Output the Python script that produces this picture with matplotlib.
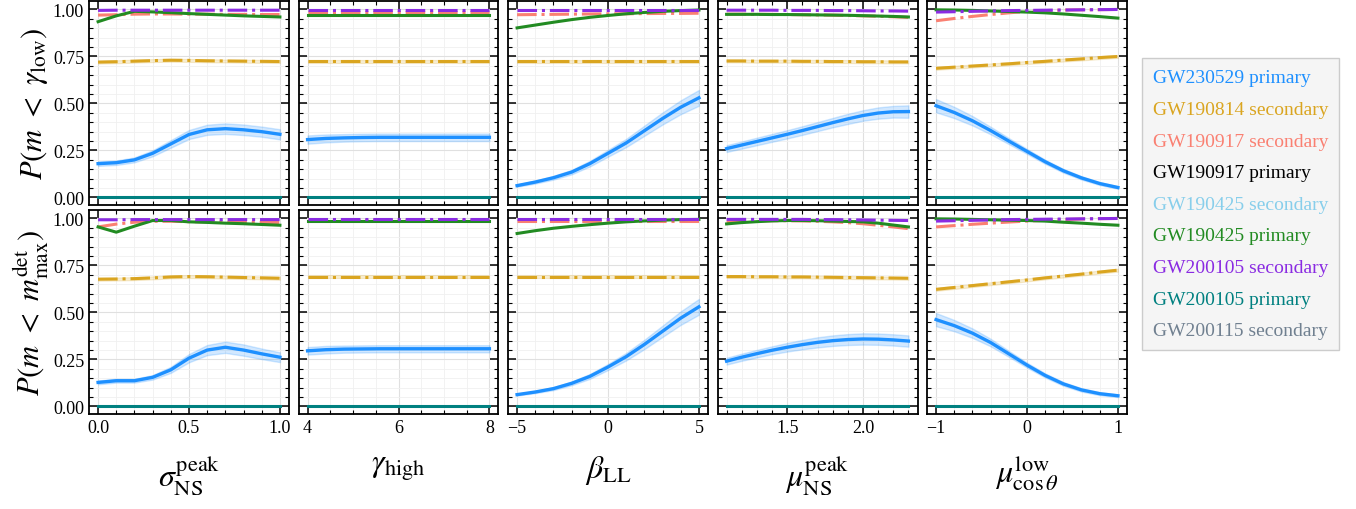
import matplotlib
matplotlib.use("Agg")
import matplotlib.pyplot as plt
from matplotlib.ticker import MultipleLocator

plt.rcParams["font.family"] = ["Liberation Serif", "DejaVu Serif"]
plt.rcParams["mathtext.fontset"] = "stix"

# x grids for each hyper-parameter
x_sig = [0.0, 0.1, 0.2, 0.3, 0.4, 0.5, 0.6, 0.7, 0.8, 0.9, 1.0]
x_gam = [4.0, 4.4, 4.8, 5.2, 5.6, 6.0, 6.4, 6.8, 7.2, 7.6, 8.0]
x_beta = [-5, -4, -3, -2, -1, 0, 1, 2, 3, 4, 5]
x_mu = [1.1, 1.2, 1.3, 1.4, 1.5, 1.6, 1.7, 1.8, 1.9, 2.0, 2.1, 2.2, 2.3]
x_cos = [-1.0, -0.8, -0.6, -0.4, -0.2, 0.0, 0.2, 0.4, 0.6, 0.8, 1.0]

xlabels = [r"$\sigma_{\rm NS}^{\rm peak}$", r"$\gamma_{\rm high}$", r"$\beta_{\rm LL}$",
           r"$\mu_{\rm NS}^{\rm peak}$", r"$\mu_{\cos\theta}^{\rm low}$"]
ylabels = [r"$P(m\ <\ \gamma_{\rm low})$", r"$P(m\ <\ m_{\rm max}^{\rm det})$"]

names = ["GW230529 primary", "GW190814 secondary", "GW190917 secondary", "GW190917 primary",
         "GW190425 secondary", "GW190425 primary", "GW200105 secondary", "GW200105 primary",
         "GW200115 secondary"]
colors = ["dodgerblue", "goldenrod", "salmon", "black", "skyblue", "forestgreen",
          "blueviolet", "teal", "slategray"]

# ---- row 1: P(m < gamma_low) ----
low_sig_blue = [0.180, 0.185, 0.200, 0.235, 0.285, 0.335, 0.360, 0.366, 0.360, 0.350, 0.336]
low_sig_err = [0.012, 0.012, 0.013, 0.016, 0.020, 0.024, 0.027, 0.028, 0.028, 0.027, 0.027]
low_sig_orange = [0.720, 0.722, 0.725, 0.728, 0.730, 0.729, 0.727, 0.726, 0.725, 0.724, 0.723]
low_sig_salmon = [0.970, 0.972, 0.975, 0.976, 0.976, 0.975, 0.975, 0.974, 0.974, 0.973, 0.973]
low_sig_green = [0.935, 0.966, 0.990, 0.987, 0.983, 0.978, 0.974, 0.970, 0.966, 0.963, 0.960]
low_sig_purple = [0.995, 0.996, 0.996, 0.996, 0.996, 0.996, 0.996, 0.996, 0.996, 0.996, 0.996]

low_gam_blue = [0.308, 0.314, 0.317, 0.319, 0.320, 0.320, 0.320, 0.320, 0.320, 0.320, 0.320]
low_gam_err = [0.022, 0.021, 0.020, 0.020, 0.020, 0.020, 0.020, 0.020, 0.020, 0.020, 0.020]
low_gam_orange = [0.725, 0.725, 0.725, 0.725, 0.725, 0.725, 0.725, 0.725, 0.725, 0.725, 0.725]
low_gam_salmon = [0.985, 0.985, 0.985, 0.985, 0.985, 0.985, 0.985, 0.985, 0.985, 0.985, 0.985]
low_gam_green = [0.970, 0.970, 0.970, 0.970, 0.970, 0.970, 0.970, 0.970, 0.970, 0.970, 0.970]
low_gam_purple = [0.996, 0.996, 0.996, 0.996, 0.996, 0.996, 0.996, 0.996, 0.996, 0.996, 0.996]

low_beta_blue = [0.063, 0.082, 0.105, 0.135, 0.180, 0.235, 0.290, 0.355, 0.420, 0.480, 0.530]
low_beta_err = [0.006, 0.008, 0.010, 0.012, 0.015, 0.018, 0.022, 0.027, 0.032, 0.037, 0.042]
low_beta_orange = [0.725, 0.725, 0.725, 0.725, 0.725, 0.725, 0.725, 0.725, 0.725, 0.725, 0.725]
low_beta_salmon = [0.972, 0.973, 0.974, 0.975, 0.976, 0.977, 0.977, 0.978, 0.979, 0.979, 0.980]
low_beta_green = [0.902, 0.917, 0.932, 0.946, 0.958, 0.968, 0.977, 0.984, 0.990, 0.994, 0.997]
low_beta_purple = [0.997, 0.997, 0.997, 0.997, 0.997, 0.997, 0.997, 0.997, 0.997, 0.997, 0.997]

low_mu_blue = [0.260, 0.279, 0.298, 0.317, 0.336, 0.356, 0.377, 0.398, 0.418, 0.436, 0.449, 0.456, 0.457]
low_mu_err = [0.018, 0.019, 0.020, 0.021, 0.022, 0.023, 0.024, 0.025, 0.027, 0.028, 0.030, 0.031, 0.033]
low_mu_orange = [0.726, 0.726, 0.725, 0.725, 0.725, 0.724, 0.724, 0.723, 0.723, 0.722, 0.722, 0.721, 0.721]
low_mu_salmon = [0.975, 0.975, 0.974, 0.974, 0.973, 0.972, 0.971, 0.970, 0.968, 0.966, 0.964, 0.961, 0.958]
low_mu_green = [0.974, 0.974, 0.974, 0.973, 0.973, 0.972, 0.971, 0.970, 0.969, 0.967, 0.965, 0.963, 0.960]
low_mu_purple = [0.996, 0.996, 0.996, 0.996, 0.995, 0.995, 0.995, 0.994, 0.994, 0.993, 0.992, 0.992, 0.991]

low_cos_blue = [0.488, 0.452, 0.408, 0.356, 0.300, 0.245, 0.190, 0.142, 0.104, 0.074, 0.053]
low_cos_err = [0.035, 0.030, 0.025, 0.020, 0.016, 0.013, 0.011, 0.010, 0.009, 0.008, 0.007]
low_cos_orange = [0.687, 0.693, 0.699, 0.705, 0.711, 0.718, 0.724, 0.731, 0.737, 0.744, 0.750]
low_cos_salmon = [0.940, 0.952, 0.963, 0.973, 0.982, 0.990, 0.994, 0.997, 0.998, 0.999, 1.000]
low_cos_green = [0.998, 0.997, 0.995, 0.992, 0.989, 0.986, 0.982, 0.976, 0.969, 0.962, 0.954]
low_cos_purple = [0.986, 0.988, 0.990, 0.992, 0.994, 0.995, 0.996, 0.997, 0.998, 0.999, 1.000]

# ---- row 2: P(m < m_max^det) ----
det_sig_blue = [0.128, 0.137, 0.137, 0.155, 0.195, 0.257, 0.300, 0.315, 0.300, 0.280, 0.262]
det_sig_err = [0.010, 0.010, 0.010, 0.012, 0.016, 0.022, 0.027, 0.030, 0.030, 0.028, 0.026]
det_sig_orange = [0.677, 0.678, 0.680, 0.684, 0.689, 0.691, 0.690, 0.688, 0.686, 0.684, 0.682]
det_sig_salmon = [0.955, 0.970, 0.980, 0.985, 0.985, 0.983, 0.982, 0.980, 0.980, 0.979, 0.978]
det_sig_green = [0.955, 0.927, 0.959, 0.989, 0.989, 0.982, 0.979, 0.975, 0.972, 0.968, 0.964]
det_sig_purple = [0.993, 0.993, 0.994, 0.994, 0.994, 0.994, 0.994, 0.994, 0.994, 0.994, 0.994]

det_gam_blue = [0.296, 0.302, 0.305, 0.306, 0.307, 0.307, 0.307, 0.307, 0.307, 0.307, 0.307]
det_gam_err = [0.020, 0.020, 0.019, 0.019, 0.019, 0.019, 0.019, 0.019, 0.019, 0.019, 0.019]
det_gam_orange = [0.689, 0.689, 0.689, 0.689, 0.689, 0.689, 0.689, 0.689, 0.689, 0.689, 0.689]
det_gam_salmon = [0.990, 0.990, 0.990, 0.990, 0.990, 0.990, 0.990, 0.990, 0.990, 0.990, 0.990]
det_gam_green = [0.984, 0.984, 0.984, 0.984, 0.984, 0.984, 0.984, 0.984, 0.984, 0.984, 0.984]
det_gam_purple = [0.995, 0.995, 0.995, 0.995, 0.995, 0.995, 0.995, 0.995, 0.995, 0.995, 0.995]

det_beta_blue = [0.063, 0.077, 0.095, 0.123, 0.160, 0.210, 0.265, 0.330, 0.400, 0.470, 0.530]
det_beta_err = [0.005, 0.006, 0.008, 0.010, 0.013, 0.016, 0.020, 0.025, 0.030, 0.036, 0.042]
det_beta_orange = [0.691, 0.691, 0.691, 0.691, 0.691, 0.691, 0.691, 0.691, 0.691, 0.691, 0.691]
det_beta_salmon = [0.985, 0.985, 0.985, 0.985, 0.985, 0.985, 0.985, 0.985, 0.985, 0.985, 0.985]
det_beta_green = [0.920, 0.935, 0.948, 0.958, 0.967, 0.975, 0.982, 0.987, 0.991, 0.994, 0.995]
det_beta_purple = [0.996, 0.996, 0.996, 0.996, 0.996, 0.996, 0.996, 0.996, 0.996, 0.996, 0.996]

det_mu_blue = [0.241, 0.262, 0.281, 0.299, 0.315, 0.329, 0.341, 0.350, 0.356, 0.359, 0.358, 0.354, 0.348]
det_mu_err = [0.018, 0.019, 0.020, 0.021, 0.023, 0.025, 0.027, 0.028, 0.029, 0.030, 0.030, 0.030, 0.030]
det_mu_orange = [0.691, 0.691, 0.690, 0.690, 0.689, 0.689, 0.688, 0.687, 0.686, 0.685, 0.684, 0.683, 0.682]
det_mu_salmon = [0.980, 0.984, 0.987, 0.988, 0.988, 0.987, 0.985, 0.982, 0.978, 0.972, 0.964, 0.955, 0.946]
det_mu_green = [0.971, 0.978, 0.983, 0.987, 0.989, 0.989, 0.988, 0.986, 0.984, 0.982, 0.975, 0.965, 0.955]
det_mu_purple = [0.995, 0.995, 0.995, 0.995, 0.995, 0.995, 0.994, 0.994, 0.993, 0.992, 0.991, 0.990, 0.989]

det_cos_blue = [0.462, 0.430, 0.390, 0.340, 0.280, 0.220, 0.165, 0.120, 0.088, 0.068, 0.057]
det_cos_err = [0.035, 0.030, 0.025, 0.020, 0.016, 0.013, 0.011, 0.010, 0.009, 0.008, 0.007]
det_cos_orange = [0.623, 0.633, 0.643, 0.653, 0.663, 0.673, 0.684, 0.694, 0.704, 0.715, 0.725]
det_cos_salmon = [0.955, 0.962, 0.969, 0.975, 0.981, 0.986, 0.990, 0.994, 0.997, 0.999, 1.000]
det_cos_green = [0.998, 0.997, 0.995, 0.993, 0.991, 0.989, 0.986, 0.980, 0.975, 0.969, 0.964]
det_cos_purple = [0.986, 0.988, 0.990, 0.992, 0.994, 0.995, 0.996, 0.997, 0.998, 0.999, 1.000]

# events that sit at P = 0 everywhere
zero_level = 0.0

xgrids = [x_sig, x_gam, x_beta, x_mu, x_cos]
panels = [
    [(low_sig_blue, low_sig_err, low_sig_orange, low_sig_salmon, low_sig_green, low_sig_purple),
     (low_gam_blue, low_gam_err, low_gam_orange, low_gam_salmon, low_gam_green, low_gam_purple),
     (low_beta_blue, low_beta_err, low_beta_orange, low_beta_salmon, low_beta_green, low_beta_purple),
     (low_mu_blue, low_mu_err, low_mu_orange, low_mu_salmon, low_mu_green, low_mu_purple),
     (low_cos_blue, low_cos_err, low_cos_orange, low_cos_salmon, low_cos_green, low_cos_purple)],
    [(det_sig_blue, det_sig_err, det_sig_orange, det_sig_salmon, det_sig_green, det_sig_purple),
     (det_gam_blue, det_gam_err, det_gam_orange, det_gam_salmon, det_gam_green, det_gam_purple),
     (det_beta_blue, det_beta_err, det_beta_orange, det_beta_salmon, det_beta_green, det_beta_purple),
     (det_mu_blue, det_mu_err, det_mu_orange, det_mu_salmon, det_mu_green, det_mu_purple),
     (det_cos_blue, det_cos_err, det_cos_orange, det_cos_salmon, det_cos_green, det_cos_purple)],
]

major_x = [0.5, 2, 5, 0.5, 1]
minor_x = [0.1, 0.5, 1, 0.1, 0.2]

fig = plt.figure(figsize=(13.56, 5.10), dpi=100)

left0, width, gap = 89 / 1356, 200 / 1356, 9.5 / 1356
bottoms = [1 - 206 / 510, 1 - 415 / 510]
height = 204 / 510

axes = [[None] * 5 for _ in range(2)]
for r in range(2):
    for c in range(5):
        ax = fig.add_axes([left0 + c * (width + gap), bottoms[r], width, height],
                          sharex=axes[0][c] if r == 1 else None)
        axes[r][c] = ax
        x = xgrids[c]
        blue, err, orange, salmon, green, purple = panels[r][c]
        zeros = [zero_level for _ in x]

        lines = []
        # GW230529 primary with its band
        lo = [b - e for b, e in zip(blue, err)]
        hi = [b + e for b, e in zip(blue, err)]
        ax.fill_between(x, lo, hi, color="dodgerblue", alpha=0.2, lw=1)
        lines.append(ax.plot(x, blue, color="dodgerblue", lw=2.4)[0])
        # GW190814 secondary with a thin band
        ax.fill_between(x, [o - 0.008 for o in orange], [o + 0.008 for o in orange],
                        color="goldenrod", alpha=0.2, lw=0.8)
        lines.append(ax.plot(x, orange, color="goldenrod", lw=2.2, ls="-.")[0])
        lines.append(ax.plot(x, salmon, color="salmon", lw=2.2, ls="-.")[0])
        lines.append(ax.plot(x, zeros, color="black", lw=2)[0])
        lines.append(ax.plot(x, zeros, color="skyblue", lw=2, ls="-.")[0])
        lines.append(ax.plot(x, green, color="forestgreen", lw=2.2)[0])
        lines.append(ax.plot(x, purple, color="blueviolet", lw=2.2, ls="-.")[0])
        slate = ax.plot(x, zeros, color="slategray", lw=2, ls="-.")[0]
        teal = ax.plot(x, zeros, color="teal", lw=2.2)[0]
        lines.append(teal)
        lines.append(slate)
        if r == 0 and c == 0:
            legend_lines = lines

        ax.set_ylim(-0.04, 1.045)
        ax.yaxis.set_major_locator(MultipleLocator(0.25))
        ax.yaxis.set_minor_locator(MultipleLocator(0.05))
        ax.xaxis.set_major_locator(MultipleLocator(major_x[c]))
        ax.xaxis.set_minor_locator(MultipleLocator(minor_x[c]))
        ax.grid(which="major", color="#e0e0e0", lw=0.8)
        ax.grid(which="minor", color="#f0f0f0", lw=0.6)
        ax.set_axisbelow(True)
        ax.tick_params(which="both", direction="in", top=True, right=True, labelsize=13)
        ax.tick_params(which="major", length=6, width=1.1)
        ax.tick_params(which="minor", length=3, width=0.8)
        for s in ax.spines.values():
            s.set_linewidth(1.3)
        if c > 0:
            ax.tick_params(labelleft=False)
        else:
            ax.set_ylabel(ylabels[r], fontsize=22, labelpad=2)
            ax.yaxis.set_major_formatter("{x:.2f}")
        if r == 0:
            ax.tick_params(labelbottom=False)
        else:
            ax.set_xlabel(xlabels[c], fontsize=23, labelpad=12)

leg = fig.legend(legend_lines, names, loc="center left", bbox_to_anchor=(0.835, 0.598),
                 handlelength=0, handletextpad=0, labelspacing=0.72,
                 fancybox=False, facecolor="#f5f5f5", edgecolor="#cccccc", framealpha=1,
                 borderpad=0.55, prop={"family": ["Liberation Serif"], "size": 14})
for h in leg.legend_handles:
    h.set_visible(False)
for t, col in zip(leg.get_texts(), colors):
    t.set_color(col)

fig.savefig("out.png", dpi=100)
